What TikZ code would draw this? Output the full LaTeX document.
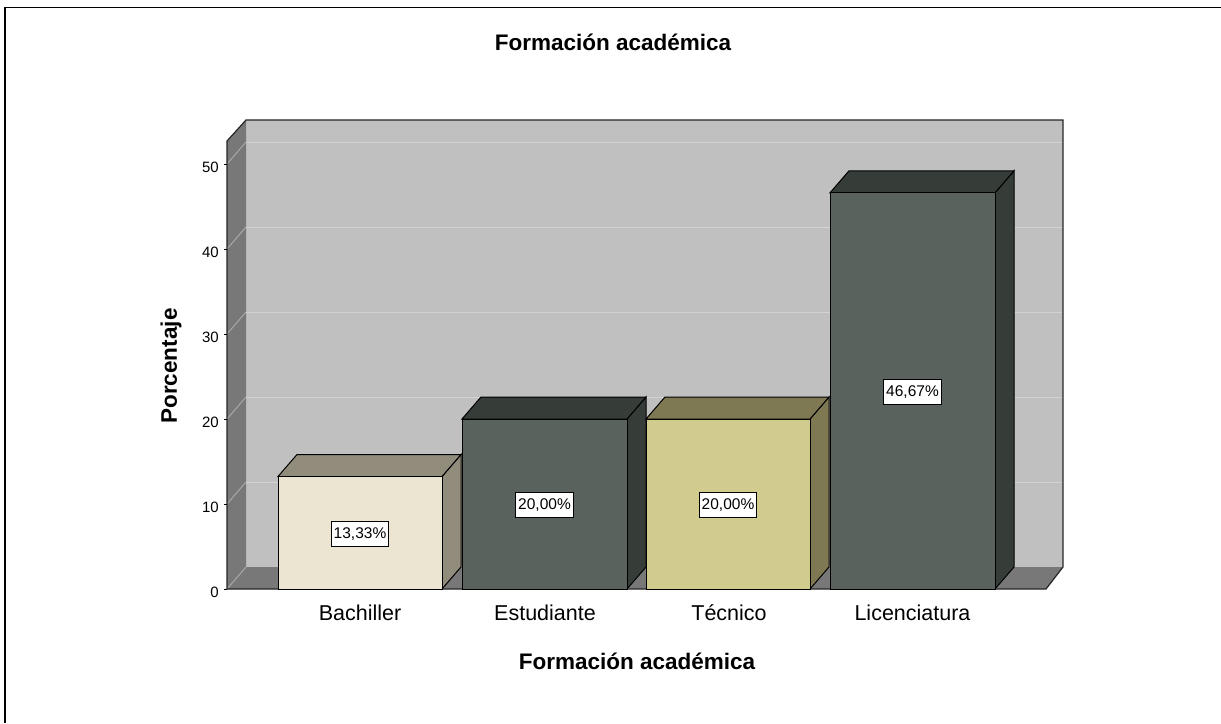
\documentclass[tikz,border=0pt]{standalone}
\usepackage{fontspec}
\setmainfont{Liberation Sans}
\definecolor{wallback}{HTML}{C0C0C0}
\definecolor{walldark}{HTML}{787878}
\definecolor{gridback}{HTML}{D2D2D2}
\definecolor{gridside}{HTML}{A8A8A8}
\definecolor{bachfront}{HTML}{EBE5D1}
\definecolor{bachside}{HTML}{918C7B}
\definecolor{darkfront}{HTML}{59625C}
\definecolor{darkside}{HTML}{363C38}
\definecolor{tecfront}{HTML}{D1CB8E}
\definecolor{tecside}{HTML}{7E7853}
\newcommand{\drawbarbox}[5]{%
  \filldraw[fill=#5, barline] (#2,#3) -- ++(19,-22) -- ({#2+19},567) -- (#2,589) -- cycle;
  \filldraw[fill=#5, barline] (#1,#3) -- ++(19,-22) -- ({#2+19},{#3-22}) -- (#2,#3) -- cycle;
  \filldraw[fill=#4, barline] (#1,#3) rectangle (#2,589);
}
\begin{document}
\begin{tikzpicture}[x=1pt,y=-1pt,
  barline/.style={draw=black, line width=1pt, line join=miter},
  ticklab/.style={anchor=east, inner sep=0pt, font=\fontsize{15}{17}\selectfont},
  catlab/.style={anchor=base, inner sep=0pt, font=\fontsize{21.5}{24}\selectfont},
  valbox/.style={draw=black, fill=white, line width=0.8pt, inner xsep=2.5pt, inner ysep=0pt, minimum height=25pt, font=\fontsize{15.5}{17}\selectfont},
  boldtitle/.style={inner sep=0pt, font=\fontsize{22.5}{26}\selectfont\bfseries}]
\useasboundingbox (0,0) rectangle (1221,723);
\fill[white] (0,0) rectangle (1221,723);
% outer frame
\draw[line width=1.8pt] (5,723) -- (5,7.5) -- (1221,7.5);
% walls
\fill[wallback] (246,120) rectangle (1063,567);
\fill[walldark] (227,589) -- (227,141) -- (246,120) -- (246,567) -- cycle;
\fill[walldark] (227,589) -- (246,567) -- (1063,567) -- (1046,589) -- cycle;
% grid lines
\foreach \v in {10,20,30,40,50} {
  \draw[gridback, line width=1pt] (246,{567-8.5*\v}) -- (1063,{567-8.5*\v});
  \draw[gridside, line width=1pt] (227,{589-8.5*\v}) -- (246,{567-8.5*\v});
}
\draw[gridside, line width=1pt] (227,589) -- (246,567);
% outline of the plot box
\draw[line width=1.2pt, line join=miter, color=black!85] (227,589) -- (227,141) -- (246,120) -- (1063,120) -- (1063,567) -- (1046,589) -- cycle;
% ticks and tick labels
\foreach \v in {0,10,20,30,40,50} {
  \draw[line width=1pt] (224,{589-8.5*\v}) -- (227,{589-8.5*\v});
  \node[ticklab] (t\v) at (219,{592-8.5*\v}) {\v};
}
% bars
\drawbarbox{278}{442}{476.5}{bachfront}{bachside}
\drawbarbox{462}{627}{419}{darkfront}{darkside}
\drawbarbox{646}{810}{419}{tecfront}{tecside}
\drawbarbox{830}{995}{192.8}{darkfront}{darkside}
% value labels
\node[valbox] (v1) at (360,534) {13,33\%};
\node[valbox] (v2) at (544.5,505) {20,00\%};
\node[valbox] (v3) at (728,505) {20,00\%};
\node[valbox] (v4) at (912.5,392) {46,67\%};
% category labels
\node[catlab] (c1) at (360,620) {Bachiller};
\node[catlab] (c2) at (545,620) {Estudiante};
\node[catlab] (c3) at (729,620) {Técnico};
\node[catlab] (c4) at (912.5,620) {Licenciatura};
% titles
\node[boldtitle] (title) at (613,42) {Formación académica};
\node[boldtitle] (xtitle) at (637,661) {Formación académica};
\node[boldtitle, rotate=90] (ytitle) at (171,366) {Porcentaje};
\end{tikzpicture}
\end{document}
